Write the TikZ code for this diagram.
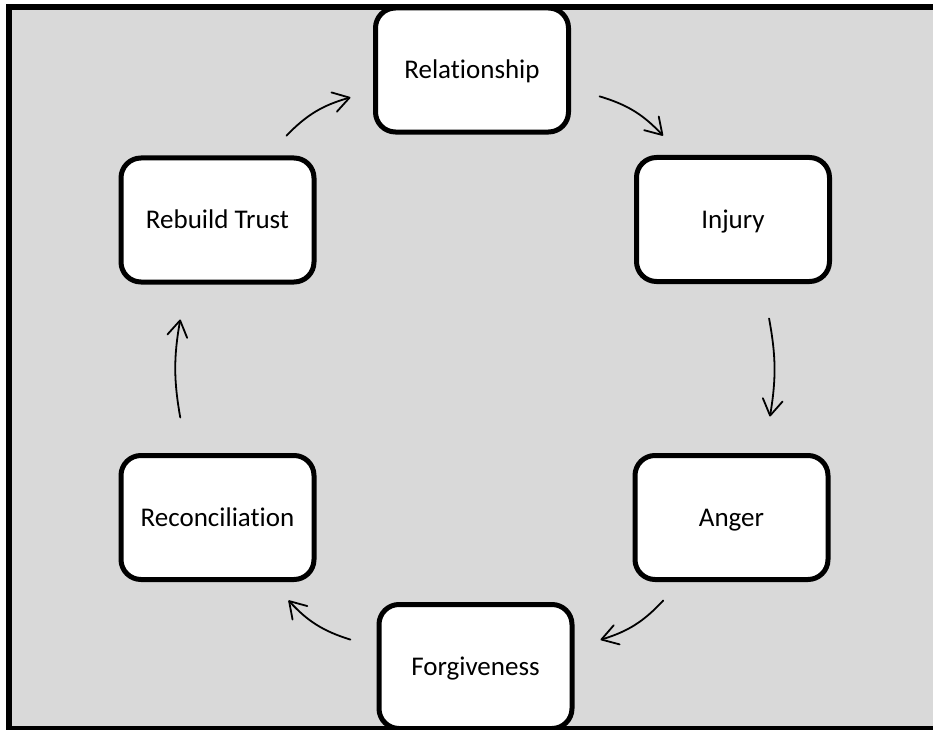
\documentclass[tikz,border=0pt]{standalone}
\usepackage{fontspec}
\setmainfont[Ligatures=NoCommon]{Carlito}
\usetikzlibrary{arrows.meta,calc}
\definecolor{bgray}{HTML}{D9D9D9}
\begin{document}
\begin{tikzpicture}[x=1bp,y=-1bp,
  stage/.style={draw=black, line width=5bp, fill=white, rounded corners=20bp,
    minimum width=193bp, minimum height=124bp, inner sep=0pt,
    font=\fontsize{27bp}{31bp}\selectfont, text height=17.4bp, text depth=0pt},
  flow/.style={line width=1.8bp, line cap=round,
    -{Straight Barb[length=16bp,width=20bp,line cap=round,line join=round]}}]
\useasboundingbox (0,0) rectangle (933,730);
\fill[bgray] (8.75,7) rectangle (945,728.75);

\node[stage] (rel)     at (472,70)      {Relationship};
\node[stage] (inj)     at (733,219.5)   {Injury};
\node[stage] (anger)   at (731.5,517.5) {Anger};
\node[stage] (forg)    at (475.5,666.5) {Forgiveness};
\node[stage] (recon)   at (217.5,517.5) {Reconciliation};
\node[stage] (rebuild) at (217.5,220)   {Rebuild Trust};

% arrow end points derived from the boxes
\coordinate (s1) at ($(rebuild.61)!38.7bp!(rel.188)$);
\coordinate (e1) at ($(rel.188)!26.3bp!(rebuild.61)$);
\coordinate (s2) at ($(rel.355)!33.6bp!(inj.121)$);
\coordinate (e2) at ($(inj.121)!36.7bp!(rel.355)$);
\coordinate (s3) at ($(inj.299)!34.5bp!(anger.59)$);
\coordinate (e3) at ($(anger.59)!36.5bp!(inj.299)$);
\coordinate (s4) at ($(anger.239)!34.8bp!(forg.6)$);
\coordinate (e4) at ($(forg.6)!30.7bp!(anger.239)$);
\coordinate (s5) at ($(forg.174)!30.8bp!(recon.303)$);
\coordinate (e5) at ($(recon.303)!34.4bp!(forg.174)$);
\coordinate (s6) at ($(recon.120)!35.5bp!(rebuild.240)$);
\coordinate (e6) at ($(rebuild.240)!35bp!(recon.120)$);

\draw[flow] (s1) to[bend left=15] (e1);
\draw[flow] (s2) to[bend left=15] (e2);
\draw[flow] (s3) to[bend left=10] (e3);
\draw[flow] (s4) to[bend left=15] (e4);
\draw[flow] (s5) to[bend left=15] (e5);
\draw[flow] (s6) to[bend left=10] (e6);

\draw[line width=5.5bp] (945,7) -- (8.75,7) -- (8.75,728.75) -- (945,728.75);
\end{tikzpicture}
\end{document}
